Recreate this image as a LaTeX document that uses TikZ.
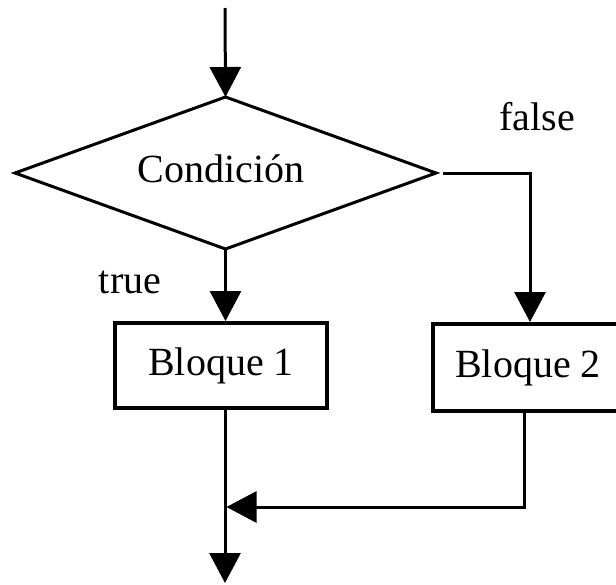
\documentclass[tikz,border=0pt]{standalone}
\usepackage{fontspec}
\setmainfont{Liberation Serif}
\usetikzlibrary{shapes.geometric,arrows.meta,calc}
\begin{document}
\begin{tikzpicture}[x=1pt,y=-1pt,
  every node/.style={font=\fontsize{40}{48}\selectfont},
  decision/.style={draw,diamond,line width=3pt,aspect=2.77,minimum width=421pt,minimum height=152pt,inner sep=0pt,outer sep=0pt},
  blockbox/.style={draw,rectangle,line width=4pt,inner sep=0pt},
  conn/.style={line width=3pt},
  arr/.style={conn,-{Triangle[length=30pt,width=31pt]}},
  lbl/.style={anchor=base,inner sep=0pt}]
\fill[white] (0,0) rectangle (616,584);
\useasboundingbox (0,0) rectangle (616,584);
% nodes
\node[decision] (cond) at (225.5,173) {};
\node[lbl] (ctext) at (221,182) {Condición};
\node[blockbox,minimum width=212pt,minimum height=85pt] (b1) at (221,365.5) {Bloque 1};
\node[blockbox,minimum width=190pt,minimum height=87pt] (b2) at (528,367.5) {Bloque 2};
\node[lbl] (flabel) at (537,130) {false};
\node[lbl] (tlabel) at (130,293) {true};
\coordinate (in) at (225,8);
\coordinate (out) at (225,583);
\coordinate (merge) at (226.5,507);
% connectors
\draw[arr] (in) -- (cond.north);
\draw[arr] (cond.south) -- (cond.south |- b1.north);
\draw[arr] ([xshift=7pt]cond.east) -| ([xshift=2pt]b2.north);
\draw[arr] (b1.south -| out) -- (out);
\draw[arr] ([xshift=-4pt]b2.south) |- (merge);
\end{tikzpicture}
\end{document}
